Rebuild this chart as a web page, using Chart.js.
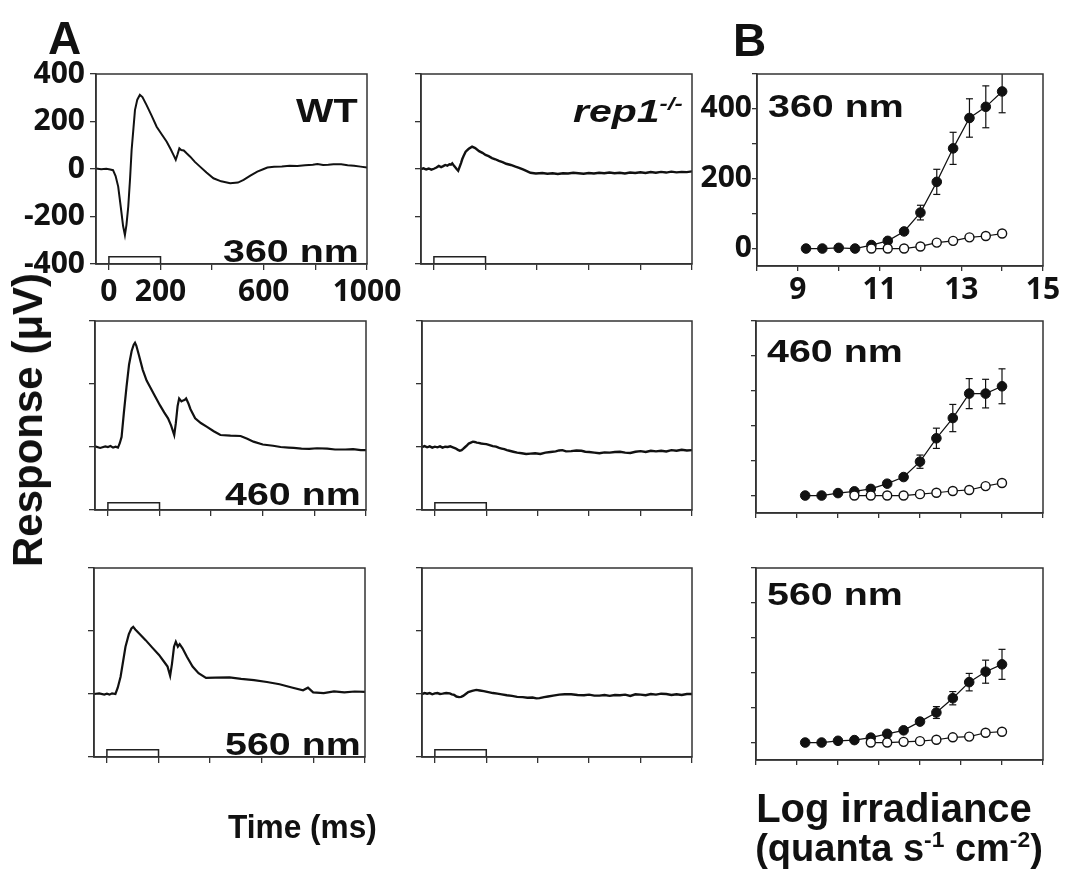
<!DOCTYPE html>
<html>
<head>
<meta charset="utf-8">
<script src="https://cdn.jsdelivr.net/npm/chart.js@4.4.1/dist/chart.umd.min.js"></script>
<style>
  html, body { margin: 0; padding: 0; background: #fff; }
  #fig { position: relative; width: 1065px; height: 880px; overflow: hidden; background: #fff; }
  #fig canvas { position: absolute; }
  .lbl { position: absolute; font-family: 'Liberation Sans', Arial, sans-serif; font-weight: bold; color: #111;
         line-height: 1; white-space: nowrap; transform-origin: 0 0; z-index: 5; }
  .sup { font-size: 0.6em; position: relative; top: -0.6em; }
  .nm { font-size: 31px; transform: scaleX(1.27); }
</style>
</head>
<body>
<div id="fig">
  <canvas id="wt360"></canvas>
  <canvas id="rep360"></canvas>
  <canvas id="irr360"></canvas>
  <canvas id="wt460"></canvas>
  <canvas id="rep460"></canvas>
  <canvas id="irr460"></canvas>
  <canvas id="wt560"></canvas>
  <canvas id="rep560"></canvas>
  <canvas id="irr560"></canvas>

  <div class="lbl" style="left:48px;top:15px;font-size:46px">A</div>
  <div class="lbl" style="left:733px;top:17px;font-size:46px">B</div>
  <div class="lbl" style="left:296px;top:94px;font-size:33px;transform:scaleX(1.2)">WT</div>
  <div class="lbl" style="left:573px;top:95px;font-size:32px;font-style:italic;transform:scaleX(1.28)">rep1<span class="sup">-/-</span></div>
  <div class="lbl nm" style="left:223px;top:236px">360 nm</div>
  <div class="lbl nm" style="left:225px;top:479px">460 nm</div>
  <div class="lbl nm" style="left:225px;top:729px">560 nm</div>
  <div class="lbl nm" style="left:768px;top:91px">360 nm</div>
  <div class="lbl nm" style="left:767px;top:336px">460 nm</div>
  <div class="lbl nm" style="left:767px;top:579px">560 nm</div>
  <div class="lbl" style="left:28px;top:420px;font-size:42px;transform-origin:50% 50%;transform:translate(-50%,-50%) rotate(-90deg)">Response (μV)</div>
  <div class="lbl" style="left:228px;top:809px;font-size:34px;transform:scaleX(0.93)">Time (ms)</div>
  <div class="lbl" style="left:744px;top:788px;width:300px;text-align:center;font-size:40px">Log irradiance</div>
  <div class="lbl" style="left:744px;top:829px;width:310px;text-align:center;font-size:38px">(quanta s<span class="sup">-1</span> cm<span class="sup">-2</span>)</div>
</div>

<script>
// ERG traces: time (ms) and response (uV)
const wt360Time = [-50, -30, -10, 5, 16, 26, 36, 46, 55, 62,
  68, 75, 82, 88, 95, 101, 110, 120, 130, 146,
  165, 185, 205, 224, 240, 252, 259, 266, 273, 280,
  290, 302, 315, 333, 353, 378, 405, 435, 470, 500,
  522, 548, 575, 600, 614, 640, 670, 700, 730, 760,
  790, 808, 830, 850, 870, 900, 925, 950, 975, 1000];
const wt360Resp = [2, -1, 1, -2, -5, -30, -74, -160, -240, -278,
  -235, -158, -40, 80, 170, 248, 292, 312, 303, 269,
  226, 178, 145, 115, 82, 55, 39, 62, 87, 80,
  78, 65, 52, 30, 10, -15, -39, -52, -60, -57,
  -46, -28, -11, 0, 6, 9, 11, 14, 13, 16,
  18, 21, 17, 18, 20, 20, 16, 14, 10, 6];

const rep360Time = [-50, -40, -30, -20, -10, 0, 10, 19, 28, 36,
  44, 52, 60, 66, 71, 77, 82, 88, 94, 100,
  105, 110, 115, 123, 135, 148, 160, 175, 188, 200,
  212, 225, 238, 252, 266, 280, 298, 316, 330, 345,
  360, 374, 395, 420, 440, 460, 480, 500, 520, 540,
  560, 580, 600, 620, 640, 660, 680, 700, 720, 740,
  760, 780, 800, 820, 840, 860, 880, 900, 920, 940,
  960, 980, 1000];
const rep360Resp = [0, 3, -2, 2, -3, 1, 6, 13, 8, 12,
  17, 14, 20, 18, 24, 15, 8, 0, -7, 10,
  25, 42, 55, 73, 85, 94, 88, 75, 68, 59,
  54, 46, 41, 34, 29, 22, 17, 10, 5, -2,
  -9, -16, -19, -17, -20, -18, -21, -18, -19, -16,
  -18, -20, -17, -19, -16, -18, -15, -18, -16, -19,
  -15, -17, -14, -17, -13, -16, -12, -15, -11, -14,
  -12, -13, -10];

const wt460Time = [-50, -30, -10, 0, 10, 20, 30, 39, 46, 53,
  62, 72, 82, 92, 100, 105, 110, 120, 135, 150,
  165, 180, 202, 218, 233, 245, 257, 263, 270, 276,
  285, 292, 298, 303, 312, 320, 338, 360, 384, 410,
  436, 475, 514, 540, 564, 600, 640, 669, 700, 720,
  750, 780, 810, 850, 880, 920, 950, 980, 1000];
const wt460Resp = [2, -3, 2, 0, 3, -2, 1, -2, 12, 32,
  110, 190, 262, 305, 325, 331, 322, 292, 245, 211,
  188, 165, 132, 110, 91, 68, 38, 75, 130, 154,
  145, 148, 150, 154, 138, 120, 91, 76, 64, 50,
  38, 36, 35, 26, 17, 8, 4, 0, -2, -3,
  -5, -6, -4, -5, -8, -8, -7, -10, -10];

const rep460Time = [-50, -40, -30, -20, -10, 0, 10, 20, 30, 40,
  50, 60, 70, 80, 90, 97, 104, 110, 118, 125,
  132, 140, 148, 155, 163, 170, 180, 190, 200, 210,
  225, 238, 250, 260, 270, 280, 290, 305, 320, 338,
  355, 372, 390, 410, 430, 450, 470, 483, 496, 510,
  530, 550, 570, 585, 600, 620, 640, 660, 680, 700,
  720, 740, 760, 780, 800, 820, 840, 860, 880, 900,
  920, 940, 960, 980, 1000];
const rep460Resp = [0, 3, -1, 2, -2, 1, -1, 2, -2, 1,
  0, 2, -1, -4, -9, -12, -10, -6, 0, 5,
  11, 14, 17, 16, 14, 13, 11, 10, 9, 7,
  3, 1, -3, -5, -7, -10, -12, -15, -18, -20,
  -22, -21, -20, -22, -18, -16, -14, -11, -10, -14,
  -13, -11, -12, -15, -16, -18, -20, -17, -18, -16,
  -15, -18, -19, -15, -13, -16, -12, -14, -12, -14,
  -10, -12, -9, -11, -10];

const wt560Time = [-50, -30, -10, 0, 10, 20, 33, 42, 53, 62,
  72, 85, 95, 102, 110, 125, 150, 175, 202, 220,
  235, 245, 252, 260, 267, 275, 282, 293, 310, 332,
  355, 384, 420, 475, 520, 570, 620, 669, 720, 760,
  779, 799, 840, 880, 920, 960, 1000];
const wt560Resp = [0, 2, -2, 1, -2, 2, 0, 20, 55, 100,
  150, 190, 208, 213, 205, 192, 171, 148, 124, 104,
  87, 58, 95, 150, 166, 150, 158, 145, 118, 87,
  66, 51, 52, 53, 48, 44, 38, 31, 20, 12,
  20, 5, 3, 8, 5, 8, 7];

const rep560Time = [-50, -40, -30, -20, -10, 0, 10, 20, 30, 44,
  58, 66, 75, 84, 94, 102, 110, 120, 130, 145,
  161, 175, 190, 208, 226, 243, 260, 280, 300, 320,
  342, 360, 380, 395, 407, 425, 440, 460, 484, 505,
  530, 555, 580, 600, 620, 640, 660, 680, 700, 720,
  740, 760, 780, 800, 820, 840, 860, 880, 900, 920,
  940, 960, 980, 1000];
const rep560Resp = [0, 3, 1, 3, -1, 2, 3, 0, 1, 3,
  2, -1, -3, -8, -10, -9, -6, 0, 6, 10,
  13, 11, 9, 6, 3, 1, -1, -4, -6, -9,
  -10, -12, -11, -14, -13, -10, -8, -5, -2, -1,
  -1, -3, -4, -2, -5, -5, -3, -6, -3, -4,
  -2, -6, -1, -2, -4, 0, -2, 1, 0, -3,
  -1, -3, 0, 0];

// light stimulus window (ms)
const stimOn = 0;
const stimOff = 200;

// Intensity-response: log irradiance vs peak response (uV)
const irrWT = [9.2, 9.6, 10.0, 10.4, 10.8, 11.2, 11.6, 12.0, 12.4, 12.8, 13.2, 13.6, 14.0];
const wtPeak360 = [0, 0, 2, 0, 10, 22, 49, 103, 191, 287, 374, 406, 450];
const wtErr360 = [0, 0, 0, 0, 0, 5, 6, 21, 36, 46, 55, 60, 61];
const wtPeak460 = [0, 0, 7, 12, 19, 34, 53, 97, 164, 222, 292, 292, 313];
const wtErr460 = [0, 0, 0, 0, 0, 0, 4, 19, 29, 39, 43, 41, 50];
const wtPeak560 = [0, 0, 5, 7, 14, 25, 35, 60, 86, 127, 173, 203, 224];
const wtErr560 = [0, 0, 0, 0, 0, 0, 0, 5, 17, 19, 25, 33, 43];

const irrRep360 = [10.8, 11.2, 11.6, 12.0, 12.4, 12.8, 13.2, 13.6, 14.0];
const repPeak360 = [0, 0, 0, 6, 17, 22, 32, 36, 43];
const irrRep460 = [10.4, 10.8, 11.2, 11.6, 12.0, 12.4, 12.8, 13.2, 13.6, 14.0];
const repPeak460 = [0, 0, 0, 0, 4, 8, 13, 16, 27, 36];
const irrRep560 = [10.8, 11.2, 11.6, 12.0, 12.4, 12.8, 13.2, 13.6, 14.0];
const repPeak560 = [0, 0, 2, 4, 8, 15, 17, 28, 31];

// tick labels that are printed
const timeTicksShown = [0, 200, 600, 1000];
const respTicksShown = [-400, -200, 0, 200, 400];
const irrTicksShown = [9, 11, 13, 15];
const peakTicksShown = [0, 200, 400];

// plot frames on the page (px)
const AXIS_W = 95, AXIS_H = 50, PAD_T = 20, PAD_R = 45;
const frames = {
  wt360: { l: 96, t: 74, w: 271, h: 190 },
  rep360: { l: 421, t: 74, w: 271, h: 190 },
  irr360: { l: 757, t: 74, w: 286, h: 192 },
  wt460: { l: 95, t: 321, w: 271, h: 189 },
  rep460: { l: 422, t: 321, w: 270, h: 189 },
  irr460: { l: 756, t: 321, w: 287, h: 192 },
  wt560: { l: 94, t: 568, w: 271, h: 189 },
  rep560: { l: 422, t: 568, w: 270, h: 189 },
  irr560: { l: 756, t: 568, w: 287, h: 192 }
};

const INK = '#111';
const FRAME = '#333';
const tickFont = { family: "'Open Sans', sans-serif", size: 30, weight: 'bold' };

const framePlugin = {
  id: 'frame',
  afterDatasetsDraw(chart) {
    const a = chart.chartArea;
    const ctx = chart.ctx;
    ctx.save();
    ctx.strokeStyle = FRAME;
    ctx.lineWidth = 1.5;
    ctx.strokeRect(a.left, a.top, a.right - a.left, a.bottom - a.top);
    ctx.restore();
  }
};

function setupCanvas(id) {
  const f = frames[id];
  const c = document.getElementById(id);
  c.width = f.w + AXIS_W + PAD_R;
  c.height = f.h + PAD_T + AXIS_H;
  c.style.left = (f.l - AXIS_W) + 'px';
  c.style.top = (f.t - PAD_T) + 'px';
  return c;
}

function toPoints(xs, ys) {
  return xs.map((x, i) => ({ x, y: ys[i] }));
}

function stimBar(yMin, yMax) {
  const top = yMin + (yMax - yMin) * 0.038;
  return [{ x: stimOn, y: yMin }, { x: stimOn, y: top }, { x: stimOff, y: top }, { x: stimOff, y: yMin }];
}

function baseOptions(o) {
  return {
    responsive: false,
    animation: false,
    devicePixelRatio: 1,
    events: [],
    layout: { padding: { left: 0, top: PAD_T, right: PAD_R, bottom: 0 } },
    plugins: { legend: { display: false }, tooltip: { enabled: false } },
    scales: {
      x: {
        type: 'linear', min: o.xMin, max: o.xMax,
        ticks: {
          stepSize: o.xStep, includeBounds: false, autoSkip: false, maxRotation: 0, minRotation: 0,
          padding: o.xPad, color: INK, font: tickFont,
          callback: (v) => (o.xShown.includes(v) ? String(v) : '')
        },
        grid: { drawOnChartArea: false, drawTicks: true, tickLength: o.tick, color: FRAME, lineWidth: 1.3 },
        border: { display: true, color: FRAME, width: 1.5 },
        afterFit: (s) => { s.height = AXIS_H; s.paddingLeft = 0; s.paddingRight = 0; }
      },
      y: {
        type: 'linear', min: o.yMin, max: o.yMax,
        ticks: {
          stepSize: o.yStep, includeBounds: false, autoSkip: false,
          padding: o.yPad, color: INK, font: tickFont,
          callback: (v) => (o.yShown.includes(v) ? String(v) : '')
        },
        grid: { drawOnChartArea: false, drawTicks: true, tickLength: o.tick, color: FRAME, lineWidth: 1.3 },
        border: { display: true, color: FRAME, width: 1.5 },
        afterFit: (s) => { s.width = AXIS_W; s.paddingTop = 0; s.paddingBottom = 0; }
      }
    }
  };
}

function traceChart(id, time, resp, yMin, yMax, showLabels, lineW) {
  return new Chart(setupCanvas(id), {
    type: 'scatter',
    data: {
      datasets: [
        { data: toPoints(time, resp), showLine: true, borderColor: INK, borderWidth: lineW, pointRadius: 0 },
        { data: stimBar(yMin, yMax), showLine: true, borderColor: '#222', borderWidth: 1.5, pointRadius: 0 }
      ]
    },
    options: baseOptions({
      xMin: -50, xMax: 1000, xStep: 200, xShown: showLabels ? timeTicksShown : [], xPad: 4,
      yMin, yMax, yStep: 200, yShown: showLabels ? respTicksShown : [], yPad: 5, tick: 6
    }),
    plugins: [framePlugin]
  });
}

function irrChart(id, wtY, wtE, repX, repY, showLabels) {
  const errPts = [];
  irrWT.forEach((x, i) => {
    if (wtE[i] > 0) {
      errPts.push({ x, y: wtY[i] - wtE[i] }, { x, y: wtY[i] + wtE[i] }, { x, y: null });
    }
  });
  return new Chart(setupCanvas(id), {
    type: 'scatter',
    data: {
      datasets: [
        {
          data: toPoints(repX, repY), showLine: true, borderColor: INK, borderWidth: 1.2,
          pointRadius: 4.5, pointBackgroundColor: '#fff', pointBorderColor: INK, pointBorderWidth: 1.4, order: 0
        },
        {
          data: toPoints(irrWT, wtY), showLine: true, borderColor: INK, borderWidth: 1.2,
          pointRadius: 4.8, pointBackgroundColor: INK, pointBorderColor: INK, pointBorderWidth: 1, order: 1
        },
        {
          data: errPts, showLine: true, spanGaps: false, borderColor: INK, borderWidth: 1.2,
          pointStyle: 'line', pointRadius: 3.5, pointBorderColor: INK, pointBorderWidth: 1.2, order: 2
        }
      ]
    },
    options: baseOptions({
      xMin: 8, xMax: 15, xStep: 1, xShown: showLabels ? irrTicksShown : [], xPad: 1,
      yMin: -50, yMax: 500, yStep: 100, yShown: showLabels ? peakTicksShown : [], yPad: 0, tick: 5
    }),
    plugins: [framePlugin]
  });
}

traceChart('wt360', wt360Time, wt360Resp, -400, 400, true, 2);
traceChart('rep360', rep360Time, rep360Resp, -400, 400, false, 2.4);
irrChart('irr360', wtPeak360, wtErr360, irrRep360, repPeak360, true);

traceChart('wt460', wt460Time, wt460Resp, -200, 400, false, 2.2);
traceChart('rep460', rep460Time, rep460Resp, -200, 400, false, 2.4);
irrChart('irr460', wtPeak460, wtErr460, irrRep460, repPeak460, false);

traceChart('wt560', wt560Time, wt560Resp, -200, 400, false, 2.2);
traceChart('rep560', rep560Time, rep560Resp, -200, 400, false, 2.4);
irrChart('irr560', wtPeak560, wtErr560, irrRep560, repPeak560, false);
</script>
</body>
</html>
